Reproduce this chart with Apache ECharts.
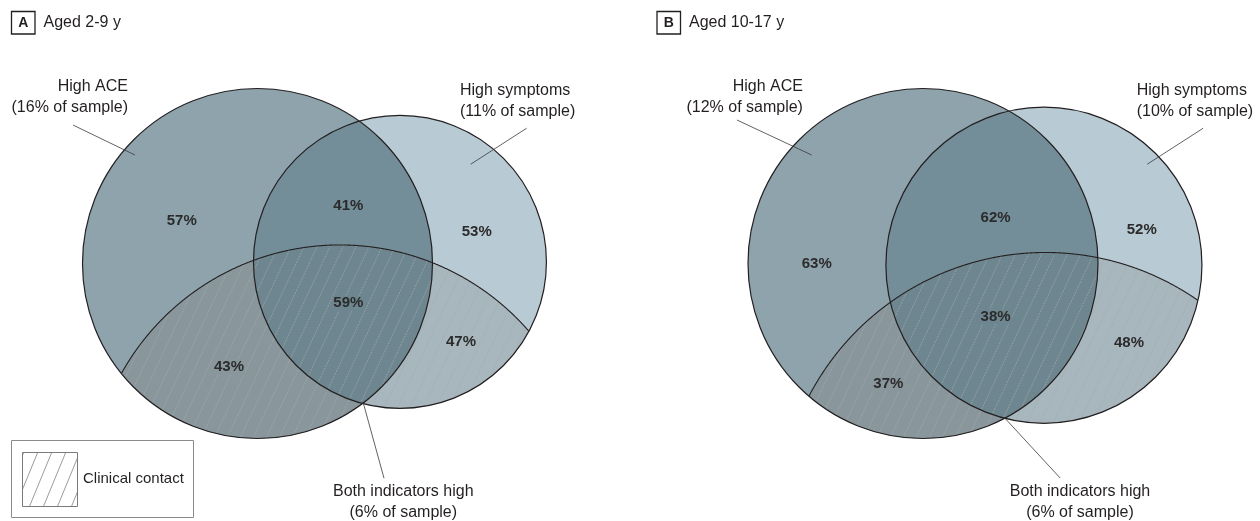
<!DOCTYPE html>
<html>
<head>
<meta charset="utf-8">
<script src="https://cdn.jsdelivr.net/npm/echarts@6/dist/echarts.min.js"></script>
<style>
  html, body { margin: 0; padding: 0; background: #fff; }
  #chart { width: 1260px; height: 521px; }
</style>
</head>
<body>
<div id="chart"></div>
<script>
// --- data ---
var panelLetters = ['A', 'B'];
var panelTitles = ['Aged 2-9 y', 'Aged 10-17 y'];
var aceShare = [16, 12];
var symShare = [11, 10];
var bothShare = [6, 6];

// circles [x, y, r], in units of the High ACE radius
var aceCircle = [[0, 0, 1], [0, 0, 1]];
var symCircle = [[0.814, 0.009, 0.837], [0.691, -0.010, 0.903]];
var contactCircle = [[0.471, -1.323, 1.429], [0.700, -1.460, 1.523]];

// regions: ACE only, both, symptoms only, then the same three with clinical contact
var regionValues = [
  ['57%', '41%', '53%', '43%', '59%', '47%'],
  ['63%', '62%', '52%', '37%', '38%', '48%']
];
var regionPos = [
  [[-0.433, 0.245], [0.519, 0.330], [1.253, 0.182], [-0.163, -0.590], [0.519, -0.227], [1.163, -0.447]],
  [[-0.607, -0.003], [0.415, 0.258], [1.250, 0.191], [-0.198, -0.689], [0.415, -0.304], [1.177, -0.456]]
];

// callouts: High ACE, High symptoms, Both indicators high
var notePos = [
  [[-0.740, 0.949], [1.157, 0.927], [0.833, -1.365]],
  [[-0.686, 0.949], [1.221, 0.927], [0.897, -1.365]]
];
var leaderLines = [
  [[[-1.054, 0.791], [-0.700, 0.620]], [[1.538, 0.773], [1.218, 0.567]], [[0.605, -0.799], [0.723, -1.227]]],
  [[[-1.063, 0.820], [-0.636, 0.620]], [[1.601, 0.773], [1.281, 0.567]], [[0.469, -0.885], [0.784, -1.226]]]
];

(function() {
  var ink = '#231f20';
  var font = '"Liberation Sans", Arial, sans-serif';
  var fills = ['#8fa3ad', '#738e99', '#b8cad3', '#89979d', '#6e868f', '#a8b7be'];
  var hatchColor = '#a3a9ac';
  var hatchStep = 13;
  var hatchSlope = 0.47; // dx per dy

  function inside(p, d, tol) {
    var dx = p[0] - d.x, dy = p[1] - d.y;
    return Math.sqrt(dx * dx + dy * dy) <= d.r + (tol || 0.01);
  }

  // intersection of disks is convex: sample boundaries, sort by angle
  function diskPoly(disks) {
    var pts = [], n = 720;
    disks.forEach(function(d, i) {
      for (var k = 0; k < n; k++) {
        var a = 2 * Math.PI * k / n;
        var p = [d.x + d.r * Math.cos(a), d.y + d.r * Math.sin(a)];
        var ok = disks.every(function(o, j) { return j === i || inside(p, o); });
        if (ok) pts.push(p);
      }
    });
    var cx = 0, cy = 0;
    pts.forEach(function(p) { cx += p[0]; cy += p[1]; });
    cx /= pts.length; cy /= pts.length;
    pts.sort(function(a, b) {
      return Math.atan2(a[1] - cy, a[0] - cx) - Math.atan2(b[1] - cy, b[0] - cx);
    });
    return pts;
  }

  // y-range where the hatch line x + t*y = c crosses disk d
  function chord(d, c, t) {
    var u = c - d.x;
    var A = 1 + t * t;
    var B = -2 * (u * t + d.y);
    var C = u * u + d.y * d.y - d.r * d.r;
    var disc = B * B - 4 * A * C;
    if (disc <= 0) return null;
    var s = Math.sqrt(disc);
    return [(-B - s) / (2 * A), (-B + s) / (2 * A)];
  }

  function hatchPath(ace, sym, clin) {
    var t = hatchSlope, path = '';
    var minC = Math.min(ace.x - ace.r, sym.x - sym.r) + t * Math.min(ace.y - ace.r, sym.y - sym.r);
    var maxC = Math.max(ace.x + ace.r, sym.x + sym.r) + t * Math.max(ace.y + ace.r, sym.y + sym.r);
    for (var c = Math.floor(minC / hatchStep) * hatchStep + 4; c <= maxC; c += hatchStep) {
      var ic = chord(clin, c, t);
      if (!ic) continue;
      var parts = [chord(ace, c, t), chord(sym, c, t)].filter(Boolean);
      parts.sort(function(a, b) { return a[0] - b[0]; });
      var merged = [];
      parts.forEach(function(iv) {
        var last = merged[merged.length - 1];
        if (last && iv[0] <= last[1]) last[1] = Math.max(last[1], iv[1]);
        else merged.push([iv[0], iv[1]]);
      });
      merged.forEach(function(iv) {
        var y1 = Math.max(iv[0], ic[0]), y2 = Math.min(iv[1], ic[1]);
        if (y2 - y1 < 0.5) return;
        path += 'M' + (c - t * y1).toFixed(2) + ' ' + y1.toFixed(2) +
          'L' + (c - t * y2).toFixed(2) + ' ' + y2.toFixed(2);
      });
    }
    return path;
  }

  function vennRenderer(pi) {
    return function(params, api) {
      function toPx(c) {
        var p = api.coord([c[0], c[1]]);
        return { x: p[0], y: p[1], r: api.size([c[2], 0])[0] };
      }
      function pt(v) { return api.coord(v); }
      var ace = toPx(aceCircle[pi]);
      var sym = toPx(symCircle[pi]);
      var clin = toPx(contactCircle[pi]);

      var arc = [];
      for (var k = 0; k <= 2880; k++) {
        var a = -Math.PI + 2 * Math.PI * k / 2880;
        var p = [clin.x + clin.r * Math.cos(a), clin.y + clin.r * Math.sin(a)];
        if (inside(p, ace, 0) || inside(p, sym, 0)) arc.push(p);
      }

      var children = [
        { type: 'circle', shape: { cx: ace.x, cy: ace.y, r: ace.r }, style: { fill: fills[0] } },
        { type: 'circle', shape: { cx: sym.x, cy: sym.y, r: sym.r }, style: { fill: fills[2] } },
        { type: 'polygon', shape: { points: diskPoly([ace, sym]) }, style: { fill: fills[1] } },
        { type: 'polygon', shape: { points: diskPoly([ace, clin]) }, style: { fill: fills[3] } },
        { type: 'polygon', shape: { points: diskPoly([sym, clin]) }, style: { fill: fills[5] } },
        { type: 'polygon', shape: { points: diskPoly([ace, sym, clin]) }, style: { fill: fills[4] } },
        { type: 'path', shape: { pathData: hatchPath(ace, sym, clin) },
          style: { fill: null, stroke: hatchColor, lineWidth: 0.7, lineDash: [2, 1] } },
        { type: 'circle', shape: { cx: ace.x, cy: ace.y, r: ace.r }, style: { fill: null, stroke: ink, lineWidth: 1.2 } },
        { type: 'circle', shape: { cx: sym.x, cy: sym.y, r: sym.r }, style: { fill: null, stroke: ink, lineWidth: 1.2 } },
        { type: 'polyline', shape: { points: arc }, style: { fill: null, stroke: ink, lineWidth: 1.1 } }
      ];

      var notes = [
        'High ACE\n(' + aceShare[pi] + '% of sample)',
        'High symptoms\n(' + symShare[pi] + '% of sample)',
        'Both indicators high\n(' + bothShare[pi] + '% of sample)'
      ];
      var aligns = ['right', 'left', 'center'];
      leaderLines[pi].forEach(function(seg) {
        var a = pt(seg[0]), b = pt(seg[1]);
        children.push({ type: 'line', shape: { x1: a[0], y1: a[1], x2: b[0], y2: b[1] },
          style: { stroke: '#3a3a3a', lineWidth: 0.8 } });
      });
      notes.forEach(function(txt, i) {
        var p = pt(notePos[pi][i]);
        children.push({ type: 'text', x: p[0], y: p[1], style: {
          text: txt, fill: ink, fontSize: 16, fontFamily: font, lineHeight: 21,
          align: aligns[i], verticalAlign: 'middle' } });
      });
      return { type: 'group', children: children };
    };
  }

  function labelRenderer(pi) {
    return function(params, api) {
      var i = params.dataIndex;
      var p = api.coord([api.value(0), api.value(1)]);
      var st = { text: regionValues[pi][i], fill: '#2b2b2b', fontSize: 15, fontWeight: 'bold',
        fontFamily: font, align: 'center', verticalAlign: 'middle' };
      if (i >= 3) { st.backgroundColor = fills[i]; st.padding = [0, 1]; }
      return { type: 'text', x: p[0], y: p[1], style: st };
    };
  }

  // legend swatch hatch tile
  var tile = document.createElement('canvas');
  tile.width = 14; tile.height = 34;
  var g = tile.getContext('2d');
  g.strokeStyle = '#707070'; g.lineWidth = 0.7;
  [-14, 0, 14].forEach(function(o) {
    g.beginPath(); g.moveTo(o, 34); g.lineTo(o + 14, 0); g.stroke();
  });

  var series = [], grids = [], xAxes = [], yAxes = [], graphics = [];
  var gridLeft = [82.5, 748];
  panelLetters.forEach(function(letter, pi) {
    grids.push({ left: gridLeft[pi], top: 88.5, width: 490, height: 350 });
    xAxes.push({ gridIndex: pi, type: 'value', min: -1, max: 1.8, show: false });
    yAxes.push({ gridIndex: pi, type: 'value', min: -1, max: 1, show: false });
    series.push({
      type: 'custom', name: 'venn ' + letter, coordinateSystem: 'cartesian2d',
      xAxisIndex: pi, yAxisIndex: pi, silent: true,
      data: [[0, 0]], renderItem: vennRenderer(pi)
    });
    series.push({
      type: 'custom', name: 'shares ' + letter, coordinateSystem: 'cartesian2d',
      xAxisIndex: pi, yAxisIndex: pi, silent: true,
      data: regionPos[pi].map(function(p, i) { return [p[0], p[1], i]; }),
      renderItem: labelRenderer(pi)
    });
  });

  var headX = [11.5, 657];
  panelLetters.forEach(function(letter, pi) {
    graphics.push({ type: 'rect', shape: { x: headX[pi], y: 11.5, width: 23.5, height: 22.5 },
      style: { fill: '#fff', stroke: ink, lineWidth: 1.3 } });
    graphics.push({ type: 'text', x: headX[pi] + 11.8, y: 23, style: { text: letter, fill: ink,
      font: 'bold 14px ' + font, align: 'center', verticalAlign: 'middle' } });
    graphics.push({ type: 'text', x: headX[pi] + 32, y: 23, style: { text: panelTitles[pi], fill: ink,
      font: '16px ' + font, align: 'left', verticalAlign: 'middle' } });
  });
  graphics.push({ type: 'rect', shape: { x: 11.5, y: 440.5, width: 182, height: 77 },
    style: { fill: '#fff', stroke: '#8a8a8a', lineWidth: 1 } });
  graphics.push({ type: 'rect', shape: { x: 22.5, y: 452.5, width: 55, height: 54 },
    style: { fill: { image: tile, repeat: 'repeat' }, stroke: '#7a7a7a', lineWidth: 1 } });
  graphics.push({ type: 'text', x: 83, y: 479, style: { text: 'Clinical contact', fill: ink,
    font: '15px ' + font, align: 'left', verticalAlign: 'middle' } });

  var chart = echarts.init(document.getElementById('chart'));
  chart.setOption({
    animation: false,
    backgroundColor: '#fff',
    grid: grids,
    xAxis: xAxes,
    yAxis: yAxes,
    graphic: graphics,
    series: series
  });
})();
</script>
</body>
</html>
